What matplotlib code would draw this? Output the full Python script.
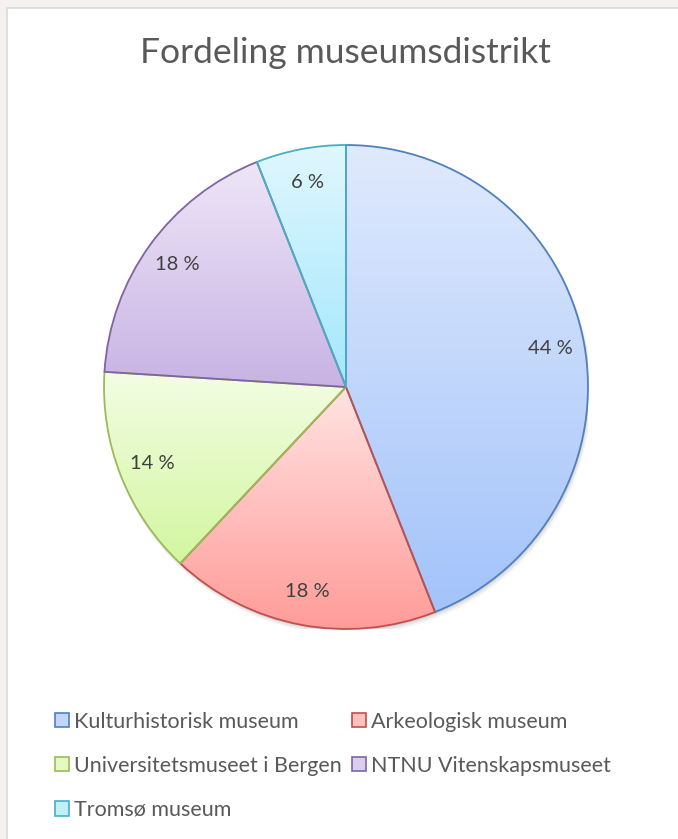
import numpy as np
import matplotlib
matplotlib.use('Agg')
import matplotlib.pyplot as plt
from matplotlib.colors import LinearSegmentedColormap, to_rgb
from matplotlib.patches import Rectangle, Circle, Patch

# data
labels = ['Kulturhistorisk museum', 'Arkeologisk museum', 'Universitetsmuseet i Bergen',
          'NTNU Vitenskapsmuseet', 'Tromsø museum']
shares = [44, 18, 14, 18, 6]
title = 'Fordeling museumsdistrikt'

# colours: (top of gradient, bottom of gradient, edge)
tops = ['#e0eafd', '#ffe3e2', '#f3fde4', '#eee6f7', '#e0f7fe']
bottoms = ['#a3c3fa', '#ff9c99', '#d3f6a0', '#c8b3e4', '#a3e7fc']
edges = ['#4f81bd', '#c0504d', '#9bbb59', '#8064a2', '#4bacc6']

plt.rcParams['font.family'] = ['Lato', 'DejaVu Sans']

W, H = 678, 839
fig = plt.figure(figsize=(W / 100, H / 100), dpi=100, facecolor='#f5f1ee')

# white chart area with thin grey border
fig.patches.append(Rectangle((7 / W, -0.01), 1.0, 1 - 8 / H + 0.01, transform=fig.transFigure,
                             facecolor='white', edgecolor='#d9d9d9', linewidth=1.2, zorder=-5))

fig.text(345 / W, 1 - 53 / H, title, ha='center', va='center', fontsize=25.5, color='#595959')

cx, cy, r = 346, 387, 242
ax = fig.add_axes([(cx - r) / W, 1 - (cy + r) / H, 2 * r / W, 2 * r / H])
ax.set_facecolor('none')
ax.set_zorder(2)

# soft shadow
for k, a in [(0.018, 0.04), (0.012, 0.06), (0.006, 0.08)]:
    ax.add_patch(Circle((k * 0.5, -k), 1.0 + k * 0.3, facecolor='black', alpha=a,
                        edgecolor='none', zorder=0))

wedges, texts, autotexts = ax.pie(
    shares, startangle=90, counterclock=False, radius=1.0,
    autopct=lambda p: f'{p:.0f} %', pctdistance=0.86,
    wedgeprops=dict(linewidth=1.3),
    textprops=dict(fontsize=14.5, color='#404040'))

for w, t, b, e in zip(wedges, tops, bottoms, edges):
    w.set_edgecolor(e)
    w.set_facecolor('none')
    w.set_zorder(3)
    bb = w.get_path().get_extents()
    cmap = LinearSegmentedColormap.from_list('g', [b, t])
    grad = np.linspace(1, 0, 256).reshape(-1, 1)
    im = ax.imshow(grad, cmap=cmap, vmin=0, vmax=1, origin='upper', aspect='auto',
                   extent=[bb.x0, bb.x1, bb.y0, bb.y1], zorder=2, interpolation='bilinear')
    im.set_clip_path(w)
for t in autotexts:
    t.set_zorder(5)

ax.set_xlim(-1.0, 1.0)
ax.set_ylim(-1.0, 1.0)
ax.set_aspect('auto')
ax.axis('off')

# legend, row-wise order in two columns
handles = [Patch(facecolor=np.mean([np.array(to_rgb(t)), np.array(to_rgb(b))], axis=0),
                 edgecolor=e, linewidth=1.2, label=l)
           for l, t, b, e in zip(labels, tops, bottoms, edges)]
order = [0, 2, 4, 1, 3]
leg = fig.legend([handles[i] for i in order], [labels[i] for i in order], ncol=2,
                 loc='upper left', bbox_to_anchor=(44 / W, 1 - 701 / H), frameon=False,
                 fontsize=15.5, labelcolor='#595959', handlelength=0.65, handleheight=0.65,
                 handletextpad=0.25, columnspacing=0.45, labelspacing=1.12, borderpad=0)

fig.savefig('out.png', dpi=100, facecolor=fig.get_facecolor())
